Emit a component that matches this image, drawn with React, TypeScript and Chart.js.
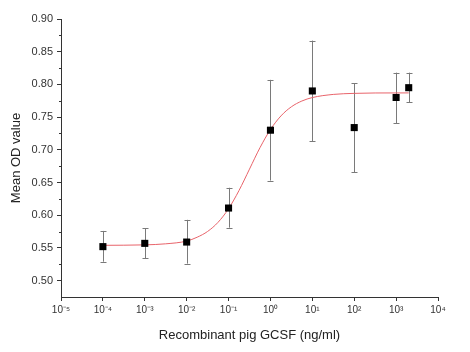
import React, { useEffect, useRef } from "react";
import { Chart, registerables } from "chart.js";

Chart.register(...registerables);

// Measured points
const doseX = [1e-4, 1e-3, 1e-2, 1e-1, 1, 10, 100, 1000, 2000];
const meanOD = [0.552, 0.557, 0.559, 0.611, 0.73, 0.79, 0.734, 0.78, 0.795];
const upperOD = [0.576, 0.58, 0.593, 0.642, 0.807, 0.867, 0.802, 0.818, 0.818];
const lowerOD = [0.529, 0.534, 0.526, 0.581, 0.653, 0.713, 0.666, 0.741, 0.773];

// Fitted curve
const curveX = [1e-4, 1e-3, 3.16e-3, 1e-2, 1.78e-2, 3.16e-2, 5.62e-2, 0.1, 0.178, 0.316, 0.562, 1, 1.78, 3.16, 5.62, 10, 31.6, 100, 316, 2000];
const curveY = [0.554, 0.5547, 0.5563, 0.5605, 0.5664, 0.5752, 0.5892, 0.61, 0.6379, 0.6705, 0.7032, 0.731, 0.7518, 0.7658, 0.7746, 0.7799, 0.7847, 0.7863, 0.7869, 0.787];

// Axes
const xTickValues = [1e-5, 1e-4, 1e-3, 1e-2, 1e-1, 1, 10, 100, 1000, 10000];
const xTickLabels = ["10⁻⁵", "10⁻⁴", "10⁻³", "10⁻²", "10⁻¹", "10⁰", "10¹", "10²", "10³", "10⁴"];
const yTickValues = [0.5, 0.55, 0.6, 0.65, 0.7, 0.75, 0.8, 0.85, 0.9];
const yMinorValues = [0.525, 0.575, 0.625, 0.675, 0.725, 0.775, 0.825, 0.875];

const FONT = "'Liberation Sans', Arial, sans-serif";

export default function App() {
  const ref = useRef<HTMLCanvasElement | null>(null);

  useEffect(() => {
    document.body.style.margin = "0";
    const canvas = ref.current;
    if (!canvas) return;

    const errorBars = {
      id: "errorBars",
      beforeDatasetsDraw(chart: any) {
        const { ctx } = chart;
        const xs = chart.scales.x;
        const ys = chart.scales.y;
        ctx.save();
        ctx.strokeStyle = "#7a7a7a";
        ctx.lineWidth = 1;
        for (let i = 0; i < doseX.length; i++) {
          const px = Math.round(xs.getPixelForValue(doseX[i])) + 0.5;
          const pt = ys.getPixelForValue(upperOD[i]);
          const pb = ys.getPixelForValue(lowerOD[i]);
          ctx.beginPath();
          ctx.moveTo(px, pt);
          ctx.lineTo(px, pb);
          ctx.moveTo(px - 3, Math.round(pt) + 0.5);
          ctx.lineTo(px + 3, Math.round(pt) + 0.5);
          ctx.moveTo(px - 3, Math.round(pb) + 0.5);
          ctx.lineTo(px + 3, Math.round(pb) + 0.5);
          ctx.stroke();
        }
        ctx.restore();
      },
      afterDraw(chart: any) {
        const { ctx } = chart;
        const ys = chart.scales.y;
        ctx.save();
        ctx.strokeStyle = "#333";
        ctx.lineWidth = 1;
        for (const v of yMinorValues) {
          const py = Math.round(ys.getPixelForValue(v)) + 0.5;
          ctx.beginPath();
          ctx.moveTo(ys.right - 2, py);
          ctx.lineTo(ys.right, py);
          ctx.stroke();
        }
        ctx.restore();
      },
    };

    const chart = new Chart(canvas, {
      type: "scatter",
      data: {
        datasets: [
          {
            label: "Mean OD",
            data: doseX.map((x, i) => ({ x, y: meanOD[i] })),
            pointStyle: "rect",
            pointRadius: 5,
            pointBackgroundColor: "#000",
            pointBorderWidth: 0,
            showLine: false,
          },
          {
            label: "Fit",
            type: "line",
            data: curveX.map((x, i) => ({ x, y: curveY[i] })),
            borderColor: "#e8636a",
            borderWidth: 1,
            pointRadius: 0,
            cubicInterpolationMode: "monotone",
            fill: false,
          } as any,
        ],
      },
      options: {
        animation: false,
        responsive: false,
        layout: { padding: { top: 19, right: 32, left: 0, bottom: 0 } },
        plugins: { legend: { display: false }, tooltip: { enabled: false } },
        scales: {
          x: {
            type: "logarithmic",
            min: 1e-5,
            max: 1e4,
            afterBuildTicks: (s: any) => {
              s.ticks = xTickValues.map((v) => ({ value: v }));
            },
            afterFit: (s: any) => {
              s.height = 55;
            },
            ticks: {
              callback: (_v: any, i: number) => xTickLabels[i],
              font: { family: FONT, size: 10 },
              color: "#333",
              padding: 3,
              maxRotation: 0,
              autoSkip: false,
            },
            grid: { display: true, drawOnChartArea: false, drawTicks: true, tickLength: 4, color: "#333" },
            border: { display: true, color: "#333", width: 1 },
            title: {
              display: true,
              text: "Recombinant pig GCSF (ng/ml)",
              font: { family: FONT, size: 13 },
              color: "#222",
              padding: { top: 4, bottom: 9 },
            },
          },
          y: {
            type: "linear",
            min: 0.475,
            max: 0.9,
            afterBuildTicks: (s: any) => {
              s.ticks = yTickValues.map((v) => ({ value: v }));
            },
            afterFit: (s: any) => {
              s.width = 61;
            },
            ticks: {
              callback: (v: any) => Number(v).toFixed(2),
              font: { family: FONT, size: 11 },
              color: "#333",
              padding: 4,
            },
            grid: { display: true, drawOnChartArea: false, drawTicks: true, tickLength: 4, color: "#333" },
            border: { display: true, color: "#333", width: 1 },
            title: {
              display: true,
              text: "Mean OD value",
              font: { family: FONT, size: 13 },
              color: "#222",
              padding: { top: 9, bottom: 4 },
            },
          },
        },
      },
      plugins: [errorBars],
    });

    return () => chart.destroy();
  }, []);

  return <canvas ref={ref} width={470} height={352} style={{ display: "block" }} />;
}
